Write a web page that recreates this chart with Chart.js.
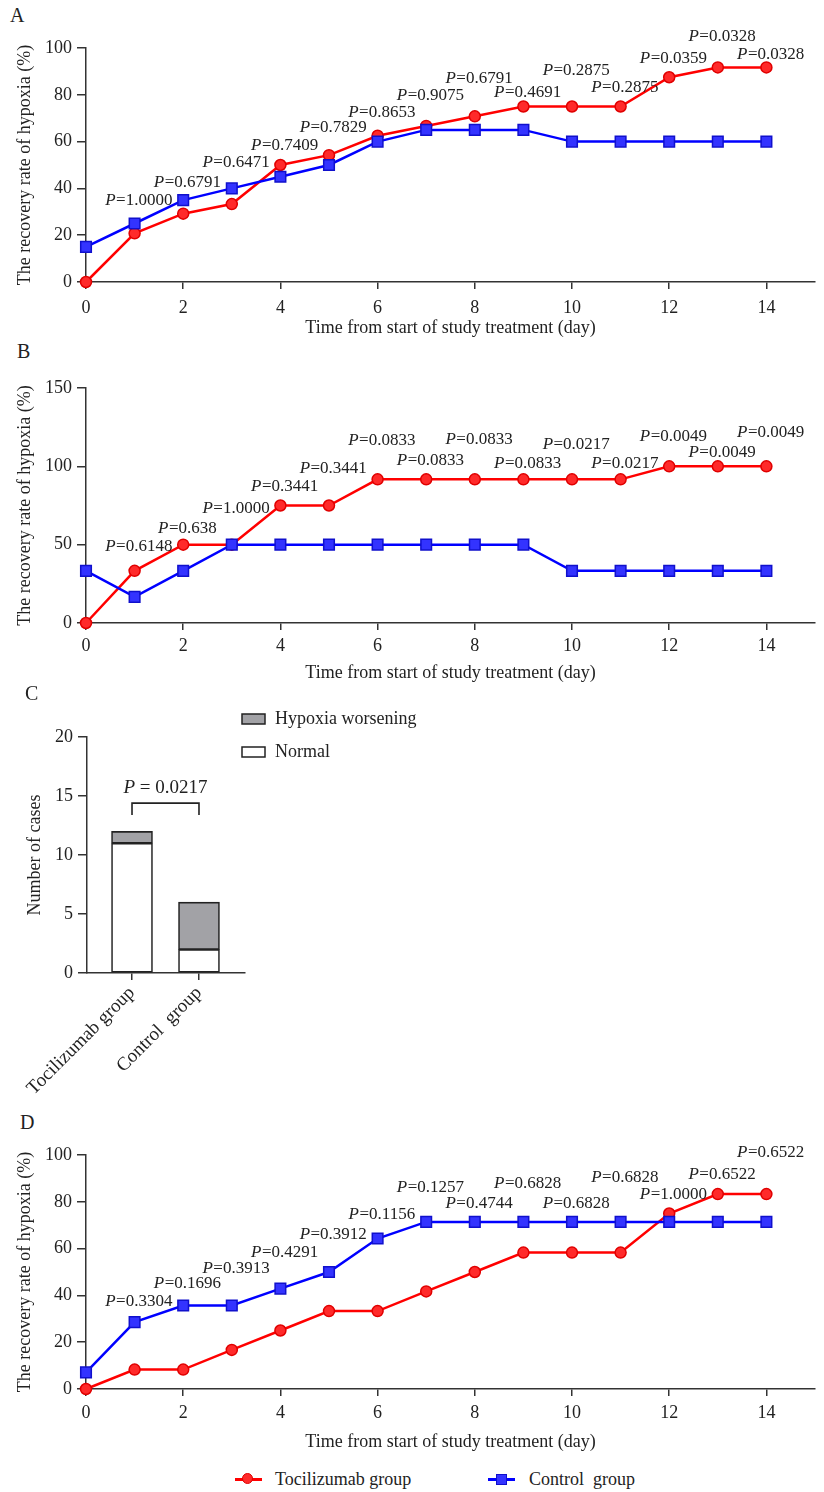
<!DOCTYPE html>
<html lang="en">
<head>
    <meta charset="UTF-8">
    <title>Recovery rate of hypoxia</title>
    <script src="https://cdn.jsdelivr.net/npm/chart.js"></script>
    <style>
        body { margin: 0; background: #fff; }
        #page { position: relative; width: 824px; height: 1492px; font-family: "Liberation Serif", "Times New Roman", serif; color: #222; }
        canvas { position: absolute; left: 0; }
        .tag { position: absolute; font-size: 20px; line-height: 20px; }
        .leg { position: absolute; top: 1469px; font-size: 18px; line-height: 20px; white-space: pre; }
        .legline { position: absolute; height: 2.5px; width: 27px; }
    </style>
</head>
<body>
<div id="page">
    <div class="tag" style="left:10px;top:5px">A</div>
    <canvas id="chartA" width="824" height="340" style="top:0"></canvas>
    <div class="tag" style="left:17px;top:341px">B</div>
    <canvas id="chartB" width="824" height="350" style="top:340px"></canvas>
    <div class="tag" style="left:25px;top:683px">C</div>
    <canvas id="chartC" width="420" height="410" style="top:690px"></canvas>
    <div class="tag" style="left:20px;top:1112px">D</div>
    <canvas id="chartD" width="824" height="360" style="top:1100px"></canvas>

    <div class="legline" style="left:235px;top:1478px;background:#ff0000"></div>
    <div style="position:absolute;left:242px;top:1473px;width:11px;height:11px;border-radius:50%;background:#ff2a2a;box-sizing:border-box;border:1.5px solid #e00000"></div>
    <div class="leg" id="legToci" style="left:275px"></div>
    <div class="legline" style="left:488px;top:1478px;background:#0000ff"></div>
    <div style="position:absolute;left:496px;top:1474px;width:11px;height:11px;background:#3333ff;box-sizing:border-box;border:1.5px solid #1010cc"></div>
    <div class="leg" id="legCtrl" style="left:529px"></div>
</div>

<script>
    // --- data ---
    const days = [0, 1, 2, 3, 4, 5, 6, 7, 8, 9, 10, 11, 12, 13, 14];
    const seriesNames = ['Tocilizumab group', 'Control  group'];

    // panel A
    const aToci = [0, 20.8, 29.2, 33.3, 50, 54.2, 62.5, 66.7, 70.8, 75, 75, 75, 87.5, 91.7, 91.7];
    const aCtrl = [15, 25, 35, 40, 45, 50, 60, 65, 65, 65, 60, 60, 60, 60, 60];
    const aP = ['1.0000', '0.6791', '0.6471', '0.7409', '0.7829', '0.8653', '0.9075', '0.6791', '0.4691', '0.2875', '0.2875', '0.0359', '0.0328', '0.0328'];
    const aPLevel = [35, 42.7, 50.9, 58.5, 65.8, 72.6, 79.5, 86.8, 80.8, 90.2, 83.3, 95.3, 104.7, 97];

    // panel B
    const bToci = [0, 33.3, 50, 50, 75, 75, 91.7, 91.7, 91.7, 91.7, 91.7, 91.7, 100, 100, 100];
    const bCtrl = [33.3, 16.7, 33.3, 50, 50, 50, 50, 50, 50, 50, 33.3, 33.3, 33.3, 33.3, 33.3];
    const bP = ['0.6148', '0.638', '1.0000', '0.3441', '0.3441', '0.0833', '0.0833', '0.0833', '0.0833', '0.0217', '0.0217', '0.0049', '0.0049', '0.0049'];
    const bPLevel = [48.5, 60.6, 72.8, 87.4, 98.9, 116.2, 104, 117.4, 101.5, 114.2, 101.5, 119.3, 109.1, 121.3];

    // panel C
    const cGroups = ['Tocilizumab group', 'Control  group'];
    const cNormal = [11, 2];
    const cWorse = [1, 4];
    const cP = '0.0217';

    // panel D
    const dToci = [0, 8.3, 8.3, 16.7, 25, 33.3, 33.3, 41.7, 50, 58.3, 58.3, 58.3, 75, 83.3, 83.3];
    const dCtrl = [7.1, 28.6, 35.7, 35.7, 42.9, 50, 64.3, 71.4, 71.4, 71.4, 71.4, 71.4, 71.4, 71.4, 71.4];
    const dP = ['0.3304', '0.1696', '0.3913', '0.4291', '0.3912', '0.1156', '0.1257', '0.4744', '0.6828', '0.6828', '0.6828', '1.0000', '0.6522', '0.6522'];
    const dPLevel = [37.2, 44.9, 51.3, 58.5, 66.2, 74.4, 86.3, 79.1, 88.0, 79.1, 90.2, 82.9, 91.5, 100.9];

    const FONT = '"Liberation Serif", "Times New Roman", serif';
    const INK = '#222';
    const AXIS = '#333';
    Chart.defaults.font.family = FONT;
    Chart.defaults.color = INK;
    Chart.defaults.animation = false;

    document.getElementById('legToci').textContent = seriesNames[0];
    document.getElementById('legCtrl').textContent = seriesNames[1];

    // italic P followed by "=value", centred above each day
    function pLabels(texts, levels) {
        return {
            id: 'pLabels',
            afterDatasetsDraw(chart) {
                const { ctx, scales: { x, y } } = chart;
                ctx.save();
                ctx.fillStyle = INK;
                ctx.textBaseline = 'middle';
                ctx.textAlign = 'left';
                texts.forEach((t, i) => {
                    const cx = x.getPixelForValue(days[i + 1]) + 4;
                    const cy = y.getPixelForValue(levels[i]);
                    const rest = '=' + t;
                    ctx.font = 'italic 17px ' + FONT;
                    const wP = ctx.measureText('P').width;
                    ctx.font = '17px ' + FONT;
                    const wR = ctx.measureText(rest).width;
                    const left = cx - (wP + wR) / 2;
                    ctx.font = 'italic 17px ' + FONT;
                    ctx.fillText('P', left, cy);
                    ctx.font = '17px ' + FONT;
                    ctx.fillText(rest, left + wP + 0.5, cy);
                });
                ctx.restore();
            }
        };
    }

    function pts(vals) {
        return days.map((d, i) => ({ x: d, y: vals[i] }));
    }

    function axisBase() {
        return {
            grid: { display: true, drawOnChartArea: false, drawTicks: true, tickLength: 7, color: AXIS, lineWidth: 1.5 },
            border: { display: true, color: AXIS, width: 1.5 },
            ticks: { font: { size: 18 }, color: INK }
        };
    }

    function lineChart(id, toci, ctrl, yMax, yStep, texts, levels, g) {
        const xAxis = axisBase();
        const yAxis = axisBase();
        return new Chart(document.getElementById(id), {
            type: 'line',
            data: {
                datasets: [
                    {
                        label: seriesNames[0], data: pts(toci),
                        borderColor: '#ff0000', borderWidth: 2.5,
                        pointStyle: 'circle', pointRadius: 5.5,
                        pointBackgroundColor: '#ff2a2a', pointBorderColor: '#e00000', pointBorderWidth: 1.5,
                        clip: false, order: 2
                    },
                    {
                        label: seriesNames[1], data: pts(ctrl),
                        borderColor: '#0000ff', borderWidth: 2.5,
                        pointStyle: 'rect', pointRadius: 7.5,
                        pointBackgroundColor: '#3333ff', pointBorderColor: '#1010cc', pointBorderWidth: 1.5,
                        clip: false, order: 1
                    }
                ]
            },
            options: {
                responsive: false,
                layout: { padding: { top: g.top, right: g.right, left: 0, bottom: 0 } },
                plugins: { legend: { display: false }, tooltip: { enabled: false } },
                scales: {
                    x: Object.assign(xAxis, {
                        type: 'linear', min: 0, max: 15,
                        ticks: Object.assign(xAxis.ticks, { stepSize: 2, includeBounds: false, padding: g.tickPad }),
                        title: { display: true, text: 'Time from start of study treatment (day)', font: { size: 18 }, color: INK, padding: { top: 0, bottom: g.titleBottom } },
                        afterFit: s => { s.height = g.xHeight; }
                    }),
                    y: Object.assign(yAxis, {
                        min: 0, max: yMax,
                        grid: Object.assign(yAxis.grid, { tickLength: 9 }),
                        ticks: Object.assign(yAxis.ticks, { stepSize: yStep, padding: 5 }),
                        title: { display: true, text: 'The recovery rate of hypoxia (%)', font: { size: 18 }, color: INK, padding: { top: 14, bottom: 0 } },
                        afterFit: s => { s.width = 86; }
                    })
                }
            },
            plugins: [pLabels(texts, levels)]
        });
    }

    lineChart('chartA', aToci, aCtrl, 100, 20, aP, aPLevel, { top: 48, right: 4, xHeight: 58, titleBottom: 1, tickPad: 8 });
    lineChart('chartB', bToci, bCtrl, 150, 50, bP, bPLevel, { top: 48, right: 0, xHeight: 67, titleBottom: 6, tickPad: 5 });
    lineChart('chartD', dToci, dCtrl, 100, 20, dP, dPLevel, { top: 55, right: 0, xHeight: 71, titleBottom: 7, tickPad: 6 });

    // panel C: stacked bars, bracket and legend
    const cExtras = {
        id: 'cExtras',
        afterDatasetsDraw(chart) {
            const { ctx, scales: { x, y } } = chart;
            ctx.save();
            // bracket between the two groups
            const x0 = x.getPixelForValue(0), x1 = x.getPixelForValue(1);
            const yTop = y.getPixelForValue(14.4), yLeg = y.getPixelForValue(13.4);
            ctx.strokeStyle = INK;
            ctx.lineWidth = 1.6;
            ctx.beginPath();
            ctx.moveTo(x0, yLeg); ctx.lineTo(x0, yTop); ctx.lineTo(x1, yTop); ctx.lineTo(x1, yLeg);
            ctx.stroke();
            const ty = y.getPixelForValue(15.7);
            const rest = ' = ' + cP;
            ctx.font = 'italic 19px ' + FONT;
            const wP = ctx.measureText('P').width;
            ctx.font = '19px ' + FONT;
            const wR = ctx.measureText(rest).width;
            const left = (x0 + x1) / 2 - (wP + wR) / 2;
            ctx.fillStyle = INK;
            ctx.textBaseline = 'middle';
            ctx.textAlign = 'left';
            ctx.font = 'italic 19px ' + FONT;
            ctx.fillText('P', left, ty);
            ctx.font = '19px ' + FONT;
            ctx.fillText(rest, left + wP, ty);
            // legend, top dataset first
            const ds = chart.data.datasets.slice().reverse();
            ds.forEach((d, i) => {
                const cy = 29 + i * 33;
                ctx.fillStyle = d.backgroundColor;
                ctx.fillRect(242, cy - 5, 23, 10);
                ctx.strokeStyle = INK;
                ctx.lineWidth = 1.5;
                ctx.strokeRect(242, cy - 5, 23, 10);
                ctx.fillStyle = INK;
                ctx.font = '18px ' + FONT;
                ctx.fillText(d.label, 275, cy);
            });
            ctx.restore();
        }
    };

    const cx = axisBase();
    const cy = axisBase();
    new Chart(document.getElementById('chartC'), {
        type: 'bar',
        data: {
            datasets: [
                { label: 'Normal', data: cNormal.map((v, i) => ({ x: i, y: v })), backgroundColor: '#ffffff', borderColor: INK, borderWidth: 1.6, borderSkipped: false, barThickness: 41 },
                { label: 'Hypoxia worsening', data: cWorse.map((v, i) => ({ x: i, y: v })), backgroundColor: '#a2a2a6', borderColor: INK, borderWidth: 1.6, borderSkipped: false, barThickness: 41 }
            ]
        },
        options: {
            responsive: false,
            layout: { padding: { top: 47, right: 175, left: 0, bottom: 0 } },
            plugins: { legend: { display: false }, tooltip: { enabled: false } },
            scales: {
                x: Object.assign(cx, {
                    type: 'linear', min: -0.672, max: 1.687, offset: false, stacked: true,
                    grid: Object.assign(cx.grid, { offset: false }),
                    ticks: Object.assign(cx.ticks, { autoSkip: false, minRotation: 45, maxRotation: 45, padding: 2, font: { size: 19 }, callback: v => cGroups[v] }),
                    afterBuildTicks: s => { s.ticks = cGroups.map((_, i) => ({ value: i })); },
                    afterFit: s => { s.height = 127; }
                }),
                y: Object.assign(cy, {
                    min: 0, max: 20, stacked: true,
                    grid: Object.assign(cy.grid, { tickLength: 9 }),
                    ticks: Object.assign(cy.ticks, { stepSize: 5, padding: 5 }),
                    title: { display: true, text: 'Number of cases', font: { size: 18 }, color: INK, padding: { top: 24, bottom: 0 } },
                    afterFit: s => { s.width = 87; }
                })
            }
        },
        plugins: [cExtras]
    });
</script>
</body>
</html>
